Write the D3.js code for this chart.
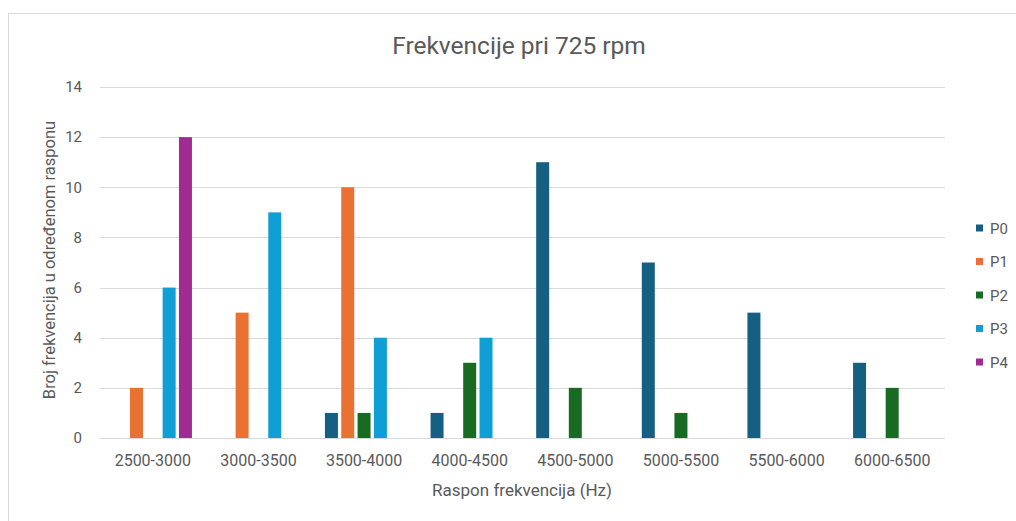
<!DOCTYPE html>
<html>
<head>
<meta charset="utf-8">
<script src="https://cdn.jsdelivr.net/npm/d3@7"></script>
<style>
  html, body { margin: 0; padding: 0; background: #fff; }
  svg { display: block; }
  text { font-family: Roboto, "Liberation Sans", sans-serif; fill: #595959; }
</style>
</head>
<body>
<svg id="chart" width="1016" height="521"></svg>
<script>
const categories = ["2500-3000", "3000-3500", "3500-4000", "4000-4500", "4500-5000", "5000-5500", "5500-6000", "6000-6500"];
const seriesNames = ["P0", "P1", "P2", "P3", "P4"];
const P0 = [0, 0, 1, 1, 11, 7, 5, 3];
const P1 = [2, 5, 10, 0, 0, 0, 0, 0];
const P2 = [0, 0, 1, 3, 2, 1, 0, 2];
const P3 = [6, 9, 4, 4, 0, 0, 0, 0];
const P4 = [12, 0, 0, 0, 0, 0, 0, 0];
const seriesValues = [P0, P1, P2, P3, P4];
const colors = ["#156082", "#E97132", "#196B24", "#0F9ED5", "#A02B93"];
const yTicks = [0, 2, 4, 6, 8, 10, 12, 14];
const title = "Frekvencije pri 725 rpm";
const xTitle = "Raspon frekvencija (Hz)";
const yTitle = "Broj frekvencija u određenom rasponu";

const svg = d3.select("#chart");

// outer chart border
svg.append("rect")
  .attr("x", 8.5).attr("y", 13.5)
  .attr("width", 1100).attr("height", 600)
  .attr("fill", "none").attr("stroke", "#d9d9d9").attr("stroke-width", 1);

const pLeft = 100, pRight = 945, pTop = 87, pBottom = 438;

const x = d3.scaleBand().domain(categories).range([pLeft, pRight]);
const y = d3.scaleLinear().domain([0, 14]).range([pBottom, pTop]);

// gridlines
svg.append("g").selectAll("line").data(yTicks).join("line")
  .attr("x1", pLeft).attr("x2", pRight)
  .attr("y1", d => Math.round(y(d)) + 0.5).attr("y2", d => Math.round(y(d)) + 0.5)
  .attr("stroke", "#d9d9d9").attr("stroke-width", 1);

// y axis labels
const yAxis = d3.axisLeft(y).tickValues(yTicks).tickSize(0).tickPadding(0);
const gy = svg.append("g").attr("transform", `translate(${82},0)`).call(yAxis);
gy.select(".domain").remove();
gy.selectAll("text").style("font-size", "15px").attr("fill", "#595959")
  .style("font-family", "Roboto, 'Liberation Sans', sans-serif");

// x axis labels
const xAxis = d3.axisBottom(x).tickSize(0).tickPadding(0);
const gx = svg.append("g").attr("transform", `translate(0,${pBottom + 17})`).call(xAxis);
gx.select(".domain").remove();
gx.selectAll("text").style("font-size", "16px").attr("fill", "#595959")
  .style("font-family", "Roboto, 'Liberation Sans', sans-serif");

// bars
const bw = x.bandwidth();
const step = bw * 0.1545;
const barW = bw * 0.123;
const groupW = step * (seriesNames.length - 1) + barW;
const inner = d3.scaleBand().domain(seriesNames).range([0, step * seriesNames.length]);

seriesNames.forEach((s, si) => {
  svg.append("g").selectAll("rect").data(categories).join("rect")
    .attr("x", (c) => x(c) + (bw - groupW) / 2 + inner(s))
    .attr("width", barW)
    .attr("y", (c, i) => y(seriesValues[si][i]))
    .attr("height", (c, i) => y(0) - y(seriesValues[si][i]))
    .attr("fill", colors[si]);
});

// title
svg.append("text").attr("x", 519).attr("y", 54).attr("text-anchor", "middle")
  .style("font-size", "24.5px").text(title);

// x title
svg.append("text").attr("x", 522).attr("y", 496).attr("text-anchor", "middle")
  .style("font-size", "17px").text(xTitle);

// y title
svg.append("text").attr("transform", "translate(55,260) rotate(-90)").attr("text-anchor", "middle")
  .style("font-size", "16.5px").text(yTitle);

// legend
const lg = svg.append("g");
seriesNames.forEach((s, i) => {
  const cy = 228 + i * 33.5;
  lg.append("rect").attr("x", 976).attr("y", cy - 3.5).attr("width", 7).attr("height", 7).attr("fill", colors[i]);
  lg.append("text").attr("x", 990).attr("y", cy + 5.5).style("font-size", "15px").text(s);
});
</script>
</body>
</html>
